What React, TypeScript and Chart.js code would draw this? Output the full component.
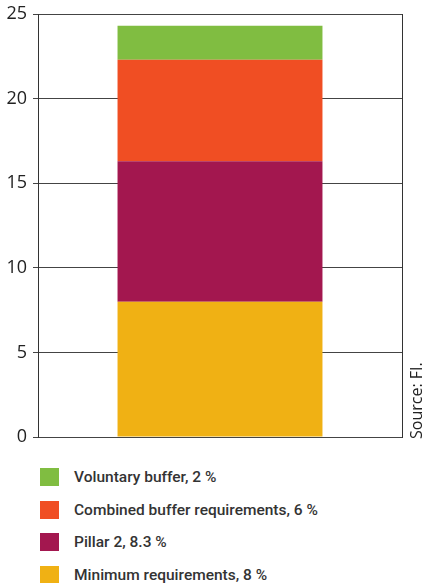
import React, { useEffect, useRef } from "react";
import { Chart, registerables } from "chart.js";

Chart.register(...registerables);

const categories = [""];
const seriesLabels = ["Minimum requirements", "Pillar 2", "Combined buffer requirements", "Voluntary buffer"];
const seriesValues = [8, 8.3, 6, 2];
const seriesColors = ["#f0b114", "#a3174f", "#f04e23", "#80bd41"];
const yMin = 0;
const yMax = 25;
const yStep = 5;
const sourceText = "Source: FI.";

const sidePlugin = {
  id: "sideDecor",
  afterDraw(chart: any) {
    const { ctx, chartArea } = chart;
    ctx.save();
    ctx.strokeStyle = "#333";
    ctx.lineWidth = 1;
    const x = Math.round(chartArea.right) + 0.5;
    ctx.beginPath();
    ctx.moveTo(x, chartArea.top);
    ctx.lineTo(x, chartArea.bottom + 1);
    ctx.stroke();
    ctx.translate(422, chartArea.bottom + 2);
    ctx.rotate(-Math.PI / 2);
    ctx.fillStyle = "#222";
    ctx.font = "16px 'Open Sans'";
    ctx.textBaseline = "alphabetic";
    ctx.textAlign = "left";
    ctx.fillText(sourceText, 0, 0);
    ctx.restore();
  },
};

export default function App() {
  const ref = useRef<HTMLCanvasElement | null>(null);
  useEffect(() => {
    if (!ref.current) return;
    const chart = new Chart(ref.current, {
      type: "bar",
      data: {
        labels: categories,
        datasets: seriesLabels.map((label, i) => ({
          label,
          data: [seriesValues[i]],
          backgroundColor: seriesColors[i],
          borderWidth: 0,
          barPercentage: 0.563,
          categoryPercentage: 1,
        })),
      },
      options: {
        animation: false,
        responsive: false,
        devicePixelRatio: 1,
        layout: { padding: { top: 14, right: 22, bottom: 17, left: 0 } },
        plugins: { legend: { display: false }, tooltip: { enabled: false } },
        scales: {
          x: { stacked: true, display: false },
          y: {
            stacked: true,
            min: yMin,
            max: yMax,
            ticks: {
              stepSize: yStep,
              color: "#222",
              padding: 6,
              font: { family: "'Open Sans'", size: 18 },
            },
            grid: { color: "#444", lineWidth: 1, tickLength: 5, drawTicks: true },
            border: { display: true, color: "#333", width: 1 },
            afterFit(scale: any) {
              scale.width = 38;
              scale.paddingTop = 0;
              scale.paddingBottom = 0;
            },
          },
        },
      },
      plugins: [sidePlugin],
    });
    return () => chart.destroy();
  }, []);

  const legendItems = seriesLabels
    .map((label, i) => ({ text: `${label}, ${seriesValues[i]} %`, color: seriesColors[i] }))
    .reverse();

  return (
    <div style={{ position: "absolute", left: 0, top: 0, width: 424, height: 583, background: "#fff", overflow: "hidden" }}>
      <canvas ref={ref} width={424} height={454} style={{ position: "absolute", left: 0, top: 0 }} />
      {legendItems.map((item, i) => (
        <div key={i} style={{ position: "absolute", left: 40, top: 468 + i * 32.7, height: 18, display: "flex", alignItems: "center" }}>
          <div style={{ width: 19, height: 18, background: item.color, flex: "none" }} />
          <span
            style={{
              marginLeft: 15,
              fontFamily: "Roboto, 'Liberation Sans', sans-serif",
              fontWeight: 500,
              fontSize: 15.5,
              color: "#333",
              whiteSpace: "nowrap",
            }}
          >
            {item.text}
          </span>
        </div>
      ))}
    </div>
  );
}
